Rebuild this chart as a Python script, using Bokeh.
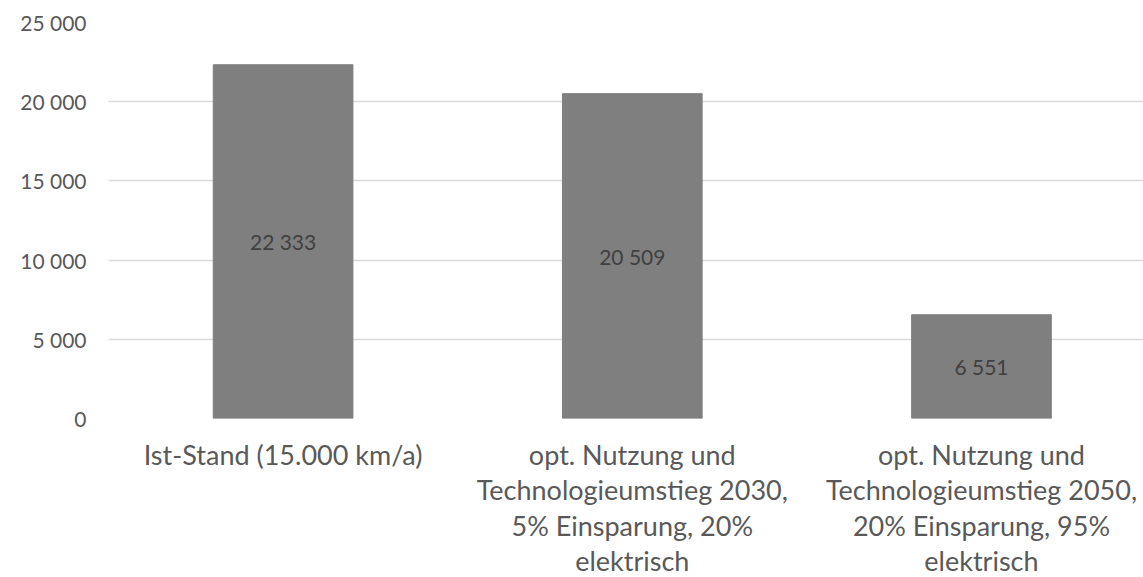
from bokeh.plotting import figure
from bokeh.models import ColumnDataSource, FixedTicker
from bokeh.core.properties import value
from bokeh.embed import file_html
from bokeh.resources import INLINE

categories = [
    "Ist-Stand (15.000 km/a)",
    "opt. Nutzung und\nTechnologieumstieg 2030,\n5% Einsparung, 20%\nelektrisch",
    "opt. Nutzung und\nTechnologieumstieg 2050,\n20% Einsparung, 95%\nelektrisch",
]
values = [22333, 20509, 6551]
y_ticks = [0, 5000, 10000, 15000, 20000, 25000]

def fmt(v):
    return f"{v:,}".replace(",", " ")

xs = list(range(len(categories)))
src = ColumnDataSource(dict(
    x=xs,
    top=values,
    mid=[v / 2 for v in values],
    label=[fmt(v) for v in values],
))

FONT = "Lato"

p = figure(frame_width=1035, frame_height=396, output_backend="svg", toolbar_location=None,
           x_range=(-0.5, 2.464), y_range=(0, 25000),
           min_border_left=108, min_border_right=0, min_border_top=22, min_border_bottom=150)
p.outline_line_color = None
p.background_fill_color = "white"

p.vbar(x="x", top="top", width=0.4, bottom=0, source=src,
       fill_color="#7f7f7f", line_color="#7f7f7f")
p.text(x="x", y="mid", text="label", source=src, text_align="center",
       text_baseline="middle", text_font=value(FONT), text_font_size="21px",
       text_color="#404040")

# y axis
p.yaxis.ticker = FixedTicker(ticks=y_ticks)
p.yaxis.major_label_overrides = {t: fmt(t) for t in y_ticks}
p.yaxis.axis_line_color = None
p.yaxis.major_tick_line_color = None
p.yaxis.minor_tick_line_color = None
p.yaxis.major_label_standoff = 16
p.yaxis.major_label_text_font = FONT
p.yaxis.major_label_text_font_size = "21px"
p.yaxis.major_label_text_color = "#595959"

p.ygrid.ticker = FixedTicker(ticks=y_ticks)
p.ygrid.grid_line_color = "#d9d9d9"
p.ygrid.grid_line_width = 1.5
p.xgrid.grid_line_color = None

# x axis
p.xaxis.ticker = FixedTicker(ticks=xs)
p.xaxis.major_label_overrides = {i: c for i, c in zip(xs, categories)}
p.xaxis.axis_line_color = None
p.xaxis.major_tick_line_color = None
p.xaxis.minor_tick_line_color = None
p.xaxis.major_label_standoff = 13
p.xaxis.major_label_text_font = FONT
p.xaxis.major_label_text_font_size = "27px"
p.xaxis.major_label_text_color = "#595959"
p.xaxis.major_label_text_line_height = 1.08

open("out.html", "w").write(file_html(p, INLINE))
